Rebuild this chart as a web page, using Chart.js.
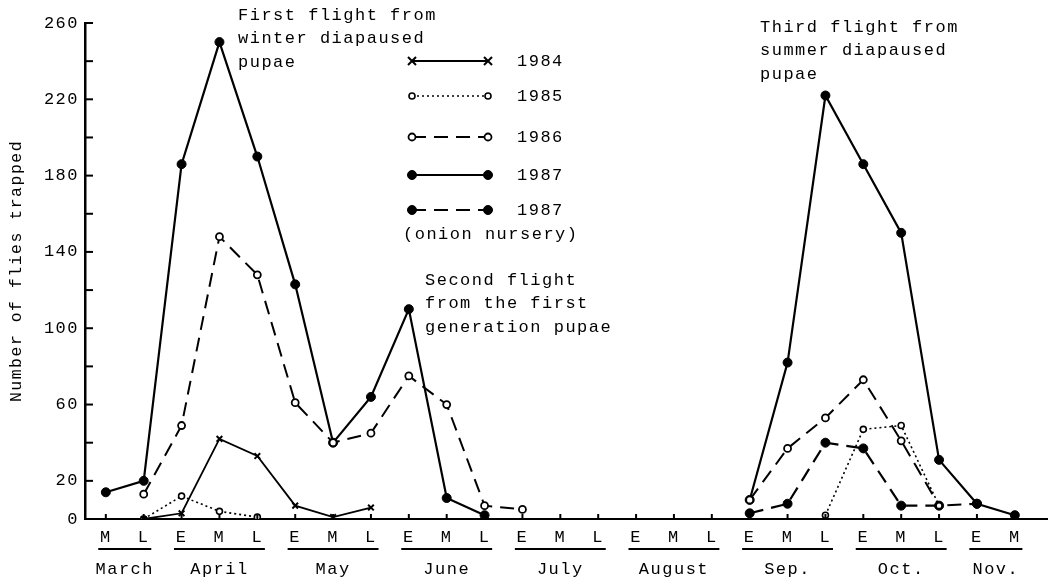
<!DOCTYPE html>
<html>
<head>
<meta charset="utf-8">
<script src="https://cdn.jsdelivr.net/npm/chart.js@4"></script>
<style>
  html, body { margin: 0; padding: 0; background: #fff; }
  #wrap { width: 1053px; height: 580px; }
</style>
</head>
<body>
<div id="wrap"><canvas id="chart"></canvas></div>
<script>
// tick labels along the x axis (early / mid / late part of each month)
var periods = ['M','L','E','M','L','E','M','L','E','M','L','E','M','L','E','M','L','E','M','L','E','M','L','E','M'];
var months = ['March','April','May','June','July','August','Sep.','Oct.','Nov.'];
var monthStart = [0, 2, 5, 8, 11, 14, 17, 20, 23];
var monthEnd = [1, 4, 7, 10, 13, 16, 19, 22, 24];
var yLabels = [0, 20, 60, 100, 140, 180, 220, 260];

// flies trapped per period (null = no trapping / not plotted)
var n = null;
var y1984 = [n, 0, 3, 42, 33, 7, 1, 6, n, n, n, n, n, n, n, n, n, n, n, n, n, n, n, n, n];
var y1985 = [n, 0, 12, 4, 1, n, n, n, n, n, n, n, n, n, n, n, n, n, n, 2, 47, 49, 7, n, n];
var y1986 = [n, 13, 49, 148, 128, 61, 40, 45, 75, 60, 7, 5, n, n, n, n, n, 10, 37, 53, 73, 41, 7, n, n];
var y1987 = [14, 20, 186, 250, 190, 123, 40, 64, 110, 11, 2, n, n, n, n, n, n, 10, 82, 222, 186, 150, 31, 8, 2];
var y1987onion = [n, n, n, n, n, n, n, n, n, n, n, n, n, n, n, n, n, 3, 8, 40, 37, 7, 7, 8, n];

var FONT = "'Liberation Mono', 'Courier New', monospace";

function toPoints(values) {
  return values.map(function (v, i) { return { x: i, y: v }; });
}

function drawMarker(ctx, ds, x, y) {
  ctx.save();
  ctx.setLineDash([]);
  ctx.lineWidth = ds.pointBorderWidth;
  ctx.strokeStyle = '#000';
  ctx.fillStyle = ds.pointBackgroundColor;
  var r = ds.pointRadius;
  if (ds.pointStyle === 'crossRot') {
    ctx.beginPath();
    ctx.moveTo(x - r, y - r); ctx.lineTo(x + r, y + r);
    ctx.moveTo(x - r, y + r); ctx.lineTo(x + r, y - r);
    ctx.stroke();
  } else {
    ctx.beginPath();
    ctx.arc(x, y, r, 0, Math.PI * 2);
    ctx.fill();
    ctx.stroke();
  }
  ctx.restore();
}

// wider typewriter look
var spacing = {
  id: 'spacing',
  beforeUpdate: function (chart) { chart.ctx.letterSpacing = '1.5px'; },
  beforeDraw: function (chart) { chart.ctx.letterSpacing = '1.5px'; }
};

// inward tick marks, month underlines and names, legend, notes
var decorations = {
  id: 'decorations',
  afterDraw: function (chart) {
    var ctx = chart.ctx;
    var xs = chart.scales.x, ys = chart.scales.y;
    var area = chart.chartArea;
    ctx.save();
    ctx.strokeStyle = '#000';
    ctx.fillStyle = '#000';
    ctx.setLineDash([]);

    // y ticks pointing into the plot
    ctx.lineWidth = 2;
    for (var v = 20; v <= 260; v += 20) {
      var py = ys.getPixelForValue(v);
      ctx.beginPath();
      ctx.moveTo(area.left, py);
      ctx.lineTo(area.left + 8, py);
      ctx.stroke();
    }
    // x ticks pointing up
    for (var i = 0; i < periods.length; i++) {
      var px = xs.getPixelForValue(i);
      ctx.beginPath();
      ctx.moveTo(px, area.bottom);
      ctx.lineTo(px, area.bottom - 5);
      ctx.stroke();
    }

    // month underlines and names
    ctx.font = '17px ' + FONT;
    ctx.textAlign = 'center';
    ctx.textBaseline = 'middle';
    ctx.lineWidth = 2;
    for (var m = 0; m < months.length; m++) {
      var x1 = xs.getPixelForValue(monthStart[m] - 0.2);
      var x2 = xs.getPixelForValue(monthEnd[m] + 0.2);
      ctx.beginPath();
      ctx.moveTo(x1, area.bottom + 30);
      ctx.lineTo(x2, area.bottom + 30);
      ctx.stroke();
      ctx.fillText(months[m], (x1 + x2) / 2, area.bottom + 50);
    }

    // legend
    var rows = [61, 96, 137, 175, 210];
    chart.data.datasets.forEach(function (ds, k) {
      var y = rows[k];
      ctx.save();
      ctx.lineWidth = ds.borderWidth;
      ctx.setLineDash(ds.borderDash || []);
      ctx.beginPath();
      ctx.moveTo(412, y);
      ctx.lineTo(488, y);
      ctx.stroke();
      ctx.restore();
      drawMarker(ctx, ds, 412, y);
      drawMarker(ctx, ds, 488, y);
      ctx.textAlign = 'left';
      ctx.fillText(ds.label, 517, y);
    });
    ctx.textAlign = 'left';
    ctx.fillText('(onion nursery)', 403, 234);

    // notes on the flights
    var notes = [
      { x: 238, y: 15, lines: ['First flight from', 'winter diapaused', 'pupae'] },
      { x: 425, y: 280, lines: ['Second flight', 'from the first', 'generation pupae'] },
      { x: 760, y: 27, lines: ['Third flight from', 'summer diapaused', 'pupae'] }
    ];
    notes.forEach(function (note) {
      note.lines.forEach(function (t, j) {
        ctx.fillText(t, note.x, note.y + j * 23.5);
      });
    });
    ctx.restore();
  }
};

var ctx = document.getElementById('chart').getContext('2d');
new Chart(ctx, {
  type: 'line',
  data: {
    datasets: [
      {
        label: '1984', data: toPoints(y1984),
        borderColor: '#000', borderWidth: 1.8,
        pointStyle: 'crossRot', pointRadius: 4, pointBorderWidth: 2,
        pointBackgroundColor: '#000', pointBorderColor: '#000'
      },
      {
        label: '1985', data: toPoints(y1985),
        borderColor: '#000', borderWidth: 1.6, borderDash: [2, 3],
        pointStyle: 'circle', pointRadius: 3, pointBorderWidth: 1.6,
        pointBackgroundColor: '#fff', pointBorderColor: '#000'
      },
      {
        label: '1986', data: toPoints(y1986),
        borderColor: '#000', borderWidth: 2, borderDash: [14, 8],
        pointStyle: 'circle', pointRadius: 3.5, pointBorderWidth: 1.8,
        pointBackgroundColor: '#fff', pointBorderColor: '#000'
      },
      {
        label: '1987', data: toPoints(y1987),
        borderColor: '#000', borderWidth: 2.2,
        pointStyle: 'circle', pointRadius: 4.5, pointBorderWidth: 1,
        pointBackgroundColor: '#000', pointBorderColor: '#000'
      },
      {
        label: '1987', data: toPoints(y1987onion),
        borderColor: '#000', borderWidth: 2.2, borderDash: [14, 8],
        pointStyle: 'circle', pointRadius: 4.5, pointBorderWidth: 1,
        pointBackgroundColor: '#000', pointBorderColor: '#000'
      }
    ]
  },
  options: {
    responsive: true,
    maintainAspectRatio: false,
    animation: false,
    spanGaps: false,
    layout: { padding: { top: 23, right: 3, left: 0, bottom: 0 } },
    plugins: { legend: { display: false }, tooltip: { enabled: false } },
    scales: {
      x: {
        type: 'linear',
        min: -0.55,
        max: 24.85,
        afterBuildTicks: function (s) {
          s.ticks = periods.map(function (p, i) { return { value: i }; });
        },
        afterFit: function (s) { s.height = 61; },
        grid: { display: false, drawTicks: false },
        border: { display: true, color: '#000', width: 2 },
        ticks: {
          autoSkip: false, maxRotation: 0, padding: 8,
          color: '#000', font: { family: FONT, size: 17 },
          callback: function (v) { return periods[v]; }
        }
      },
      y: {
        min: 0,
        max: 260,
        afterBuildTicks: function (s) {
          var t = [];
          for (var v = 0; v <= 260; v += 20) t.push({ value: v });
          s.ticks = t;
        },
        afterFit: function (s) { s.width = 85; },
        grid: { display: false, drawTicks: false },
        border: { display: true, color: '#000', width: 2.5 },
        ticks: {
          padding: 6, color: '#000', font: { family: FONT, size: 17 },
          callback: function (v) { return yLabels.indexOf(v) >= 0 ? String(v) : ''; }
        },
        title: {
          display: true, text: 'Number of flies trapped', color: '#000',
          font: { family: FONT, size: 16.5 }, padding: { top: 7, bottom: 0 }
        }
      }
    }
  },
  plugins: [spacing, decorations]
});
</script>
</body>
</html>
